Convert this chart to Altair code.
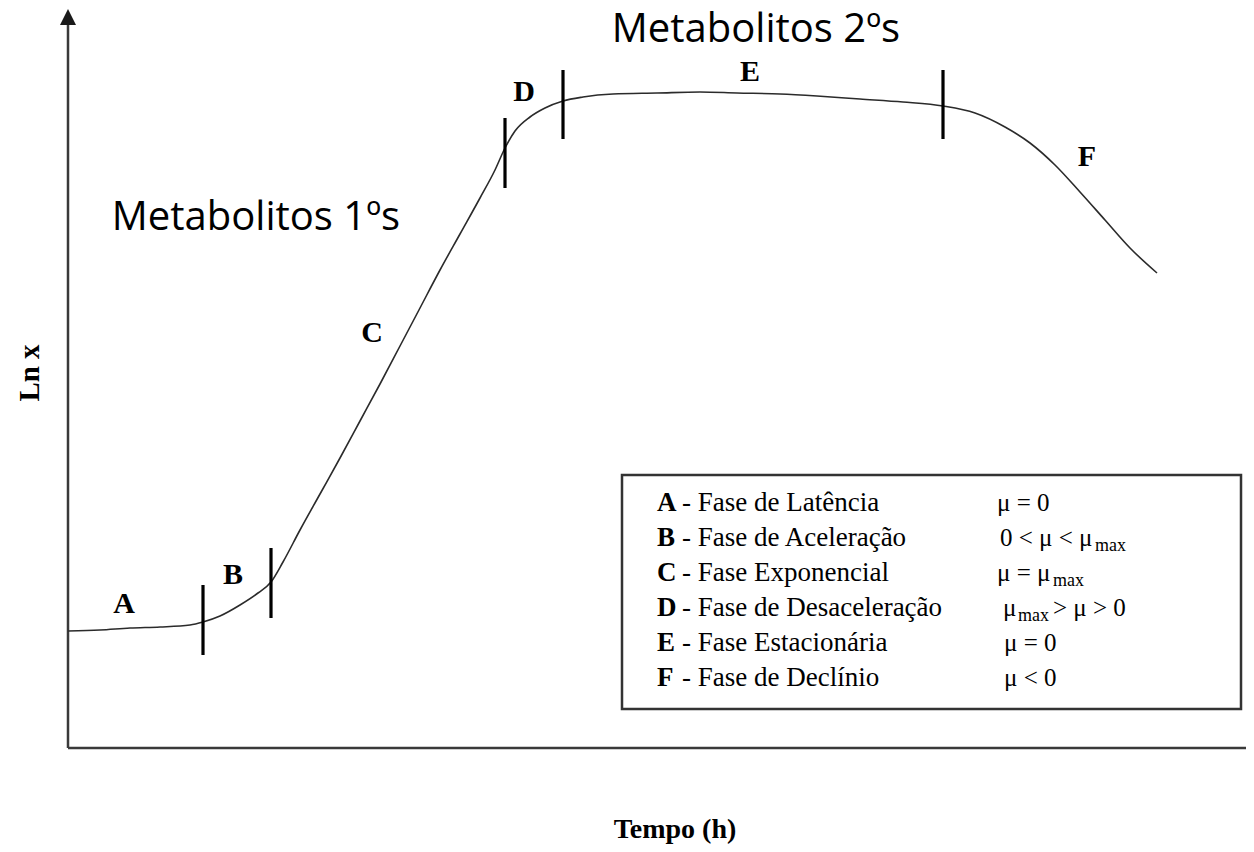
import altair as alt
import pandas as pd

# ---------------- data (arbitrary units) ----------------
# growth curve: time (x) and Ln x (y)
curve_t = [0, 32, 62, 92, 122, 135, 152, 172, 190, 203, 215, 232, 252, 272, 292, 312,
           332, 352, 372, 392, 412, 427, 437, 447, 462, 477, 495, 515, 545, 589, 632,
           669, 712, 749, 792, 835, 875, 907, 937, 962, 987, 1012, 1037, 1062, 1089]
curve_y = [117, 118, 120, 121, 123, 126, 132, 143, 155, 166, 186, 218, 254, 290, 327, 364,
           402, 440, 478, 514, 550, 578, 600, 617, 631, 640, 647, 651, 654, 655, 656,
           655, 654, 652, 649, 646, 642, 635, 621, 605, 583, 556, 528, 500, 475]

# phase boundary marks
tick_t = [135, 203, 437, 495, 875]
tick_lo = [93, 130, 560, 609, 609]
tick_hi = [163, 200, 630, 678, 678]

# phase letters on the curve
phase_labels = ["A", "B", "C", "D", "E", "F"]
phase_t = [56, 165, 304, 456, 682, 1019]
phase_y = [144, 173, 415, 656, 676, 591]

# annotations
meta_labels = ["Metabolitos 1ºs", "Metabolitos 2ºs"]
meta_t = [188, 688]
meta_y = [518, 706]

# legend
legend_letters = ["A", "B", "C", "D", "E", "F"]
legend_desc = ["- Fase de Latência", "- Fase de Aceleração", "- Fase Exponencial",
               "- Fase de Desaceleração", "- Fase Estacionária", "- Fase de Declínio"]
legend_rate = ["μ = 0", "0 < μ < μ", "μ = μ", "μ", "μ = 0", "μ < 0"]
legend_row_y = [245, 210, 175, 140, 105, 70]
legend_rate_t = [929, 932, 929, 935, 936, 936]
sub_text = ["max", "max", "max"]
sub_t = [1027, 985, 950]
sub_y = [202, 167, 132]
tail_text = ["> μ > 0"]
tail_t = [985]
tail_y = [140]
legend_box = {"t1": 554, "t2": 1173, "y1": 39, "y2": 273}
legend_letter_t = 589
legend_desc_t = 614

axis_title_x = "Tempo (h)"
axis_title_y = "Ln x"

# ---------------- chart ----------------
xs = alt.Scale(domain=[-60, 1178], nice=False, zero=False)
ys = alt.Scale(domain=[-96, 740], nice=False, zero=False)
SERIF = "Liberation Serif"
INK = "#2b2b2b"


def X(f):
    return alt.X(f, type="quantitative", scale=xs, axis=None)


def Y(f):
    return alt.Y(f, type="quantitative", scale=ys, axis=None)


axes_df = pd.DataFrame({"x": [0, 0], "x2": [0, 1178], "y": [0, 0], "y2": [728, 0]})
axes = alt.Chart(axes_df).mark_rule(color="#3a3a3a", strokeWidth=2.5).encode(
    x=X("x"), x2="x2", y=Y("y"), y2="y2")

arrow = alt.Chart(pd.DataFrame({"x": [0], "y": [731]})).mark_point(
    shape="M-1,1L0,-1L1,1Z", size=256, filled=True, color="#1a1a1a", opacity=1
).encode(x=X("x"), y=Y("y"))

curve = alt.Chart(pd.DataFrame({"t": curve_t, "v": curve_y})).mark_line(
    interpolate="monotone", color=INK, strokeWidth=1.6
).encode(x=X("t"), y=Y("v"))

ticks = alt.Chart(pd.DataFrame({"t": tick_t, "lo": tick_lo, "hi": tick_hi})).mark_rule(
    color="black", strokeWidth=3.2
).encode(x=X("t"), y=Y("lo"), y2="hi")

letters = alt.Chart(pd.DataFrame({"t": phase_t, "v": phase_y, "s": phase_labels})).mark_text(
    font=SERIF, fontSize=30, fontWeight="bold", color="black", baseline="middle", align="center"
).encode(x=X("t"), y=Y("v"), text="s:N")

meta = alt.Chart(pd.DataFrame({"t": meta_t, "v": meta_y, "s": meta_labels})).mark_text(
    font="Open Sans", fontSize=40, color="black", baseline="alphabetic", align="center"
).encode(x=X("t"), y=Y("v"), text="s:N")

ytitle = alt.Chart(pd.DataFrame({"t": [-38], "v": [375], "s": [axis_title_y]})).mark_text(
    font=SERIF, fontSize=29, fontWeight="bold", color="black", angle=270,
    baseline="middle", align="center"
).encode(x=X("t"), y=Y("v"), text="s:N")

xtitle = alt.Chart(pd.DataFrame({"t": [607], "v": [-82], "s": [axis_title_x]})).mark_text(
    font=SERIF, fontSize=28, fontWeight="bold", color="black", baseline="middle", align="center"
).encode(x=X("t"), y=Y("v"), text="s:N")

box = alt.Chart(pd.DataFrame([legend_box])).mark_rect(
    fill="white", stroke="#333333", strokeWidth=2.5
).encode(x=X("t1"), x2="t2", y=Y("y1"), y2="y2")

n = len(legend_letters)
leg_df = pd.DataFrame({
    "lt": [legend_letter_t] * n, "dt": [legend_desc_t] * n, "rt": legend_rate_t,
    "v": legend_row_y, "l": legend_letters, "d": legend_desc, "r": legend_rate,
})
leg_letters = alt.Chart(leg_df).mark_text(
    font=SERIF, fontSize=27, fontWeight="bold", color="black", align="left", baseline="middle"
).encode(x=X("lt"), y=Y("v"), text="l:N")
leg_desc = alt.Chart(leg_df).mark_text(
    font=SERIF, fontSize=27, color="black", align="left", baseline="middle"
).encode(x=X("dt"), y=Y("v"), text="d:N")
leg_rate = alt.Chart(leg_df).mark_text(
    font=SERIF, fontSize=25, color="black", align="left", baseline="middle"
).encode(x=X("rt"), y=Y("v"), text="r:N")
leg_sub = alt.Chart(pd.DataFrame({"t": sub_t, "v": sub_y, "s": sub_text})).mark_text(
    font=SERIF, fontSize=18, color="black", align="left", baseline="middle"
).encode(x=X("t"), y=Y("v"), text="s:N")
leg_tail = alt.Chart(pd.DataFrame({"t": tail_t, "v": tail_y, "s": tail_text})).mark_text(
    font=SERIF, fontSize=25, color="black", align="left", baseline="middle"
).encode(x=X("t"), y=Y("v"), text="s:N")

chart = alt.layer(
    axes, arrow, curve, ticks, letters, meta, ytitle, xtitle,
    box, leg_letters, leg_desc, leg_rate, leg_sub, leg_tail
).properties(
    width=1238, height=836, autosize=alt.AutoSizeParams(type="none"), padding=0,
    background="white"
).configure_view(stroke=None)

chart.save("out.html", embed_options={"renderer": "svg", "actions": False})
